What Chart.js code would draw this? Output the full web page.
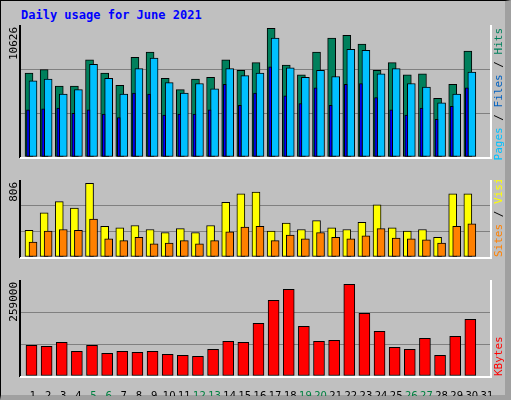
<!DOCTYPE html>
<html>
<head>
<meta charset="utf-8">
<script src="https://cdn.jsdelivr.net/npm/chart.js@4/dist/chart.umd.min.js"></script>
<style>
  body { margin: 0; background: #fff; }
  #frame { position: absolute; left: 0; top: 0; width: 504px; height: 394px;
           background: #c0c0c0; border: 1px solid #000; border-right: 6px solid #a0a0a0; border-bottom: 5px solid #a0a0a0; }
  #title { position: absolute; left: 20px; top: 7px; font: bold 12px "DejaVu Sans Mono", monospace; color: #0000ff; }
  canvas { position: absolute; left: 0; }
</style>
</head>
<body>
<div id="frame"><div id="title">Daily usage for June 2021</div></div>
<canvas id="c1" style="top:25px"></canvas>
<canvas id="c2" style="top:180px"></canvas>
<canvas id="c3" style="top:280px"></canvas>
<script>
const days = [1,2,3,4,5,6,7,8,9,10,11,12,13,14,15,16,17,18,19,20,21,22,23,24,25,26,27,28,29,30];
const weekend = [5,6,12,13,19,20,26,27];
const hits  = [6758,7040,5702,5702,7814,6758,5773,8026,8448,6336,5421,6266,6406,7814,6970,7603,10349,7392,6618,8448,9574,9786,9082,6970,7603,6618,6688,4717,5843,8518];
const files = [6125,6266,5069,5421,7462,6336,5069,7110,7955,5984,5139,5914,5491,7110,6547,6758,9574,7181,6406,6970,6477,8659,8589,6688,7110,5914,5632,4365,5069,6829];
const pages = [3802,3872,3942,3520,3802,3450,3168,5139,5069,3379,3450,3450,3802,5843,4154,5139,7251,4928,4294,5562,4154,5843,5914,4787,3802,3379,3942,3027,4083,5562];
const visits = [280,463,579,513,770,322,305,330,288,255,297,255,330,571,662,679,272,355,288,380,305,288,363,546,305,272,288,205,662,662];
const sites  = [155,272,288,280,396,189,172,205,139,147,172,139,172,263,313,322,172,230,189,255,205,189,222,297,197,189,180,147,322,347];
const kbytes = [82830,80130,90920,66640,82830,61240,66640,63940,66640,58550,55850,53150,72040,93620,90920,142180,204240,233920,134090,93620,96320,247410,169160,120600,77430,72040,101710,55850,107110,152980];
const maxTop = 10626, maxMid = 806, maxBot = 259000;

const XMIN = 0.207, XMAX = 31.2;
//-----------------------------------------------------------------------------
function pts(values, shift){
    return values.map((v, i) => ({ x: days[i] + shift, y: v }));
}
function bars(values, shift, color, width, order){
    return { data: pts(values, shift), backgroundColor: color, borderColor: '#000', order: order,
             borderWidth: 1, barThickness: width, grouped: false, borderSkipped: false };
}
// frame, left max label and right legend text
function decoPlugin(maxLabel, legend, anchorTop){
    return {
        id: 'deco',
        beforeDraw(chart){
            const ctx = chart.ctx, a = chart.chartArea;
            ctx.save();
            ctx.lineWidth = 2;
            ctx.strokeStyle = '#000';
            ctx.beginPath(); ctx.moveTo(a.left - 1, a.bottom + 1); ctx.lineTo(a.left - 1, a.top - 1); ctx.lineTo(a.right + 1, a.top - 1); ctx.stroke();
            ctx.strokeStyle = '#fff';
            ctx.beginPath(); ctx.moveTo(a.right + 1, a.top - 1); ctx.lineTo(a.right + 1, a.bottom + 1); ctx.lineTo(a.left - 1, a.bottom + 1); ctx.stroke();
            ctx.restore();
        },
        afterDraw(chart){
            const ctx = chart.ctx, a = chart.chartArea;
            ctx.save();
            ctx.font = '11px "DejaVu Sans Mono", monospace';
            ctx.textBaseline = 'middle';
            ctx.translate(14, a.top + 2);
            ctx.rotate(-Math.PI / 2);
            ctx.textAlign = 'right';
            ctx.fillStyle = '#000';
            ctx.fillText(maxLabel, 0, 0);
            ctx.restore();

            ctx.save();
            ctx.font = '11px "DejaVu Sans Mono", monospace';
            ctx.textBaseline = 'middle';
            const total = legend.reduce((s, p) => s + ctx.measureText(p[0]).width, 0);
            let start = anchorTop ? a.top + 3 + total : a.bottom;
            ctx.translate(499, start);
            ctx.rotate(-Math.PI / 2);
            ctx.textAlign = 'left';
            let x = 0;
            legend.forEach(p => { ctx.fillStyle = p[1]; ctx.fillText(p[0], x, 0); x += ctx.measureText(p[0]).width; });
            ctx.restore();
        }
    };
}
function makeChart(id, height, datasets, max, maxLabel, legend, anchorTop, withTicks){
    const el = document.getElementById(id);
    el.width = 512; el.height = height;
    el.style.width = '512px'; el.style.height = height + 'px';
    return new Chart(el, {
        type: 'bar',
        data: { datasets: datasets },
        options: {
            responsive: false, animation: false, devicePixelRatio: 1,
            maintainAspectRatio: false,
            layout: { padding: { left: 21, right: 22, top: 0, bottom: 0 } },
            plugins: { legend: { display: false }, tooltip: { enabled: false } },
            scales: {
                x: {
                    type: 'linear', min: XMIN, max: XMAX, offset: false,
                    display: withTicks,
                    grid: { display: false }, border: { display: false },
                    afterFit: s => { s.height = 20; },
                    ticks: {
                        stepSize: 1, includeBounds: false, autoSkip: false, maxRotation: 0, padding: 6,
                        font: { family: 'DejaVu Sans', size: 10 },
                        color: c => weekend.includes(c.tick.value) ? '#008040' : '#000',
                        callback: v => Number.isInteger(v) ? String(v) : ''
                    }
                },
                y: {
                    min: 0, max: max,
                    ticks: { display: false, stepSize: max / 3 },
                    grid: { color: c => (c.tick.value > 0 && c.tick.value < max) ? '#808080' : 'rgba(0,0,0,0)', lineWidth: 1, drawTicks: false },
                    border: { display: false }
                }
            }
        },
        plugins: [decoPlugin(maxLabel, legend, anchorTop)]
    });
}
//-----------------------------------------------------------------------------
Chart.defaults.font.family = '"DejaVu Sans Mono", monospace';
makeChart('c1', 152, [
    bars(hits, -0.264, '#00805c', 8, 2),
    bars(files, 0, '#00c0ff', 8, 1),
    bars(pages, -0.33, '#0000ff', 3, 0)
], maxTop, '10626', [['Pages', '#00c0ff'], [' / ', '#000'], ['Files', '#0060c0'], [' / ', '#000'], ['Hits', '#00805c']], true, false);

makeChart('c2', 97, [
    bars(visits, -0.264, '#ffff00', 8, 1),
    bars(sites, 0, '#ff8000', 8, 0)
], maxMid, '806', [['Sites', '#ff8000'], [' / ', '#000'], ['Visits', '#ffff00']], false, false);

makeChart('c3', 116, [
    bars(kbytes, -0.1, '#ff0000', 11, 0)
], maxBot, '259000', [['KBytes', '#ff0000']], false, true);
</script>
</body>
</html>
